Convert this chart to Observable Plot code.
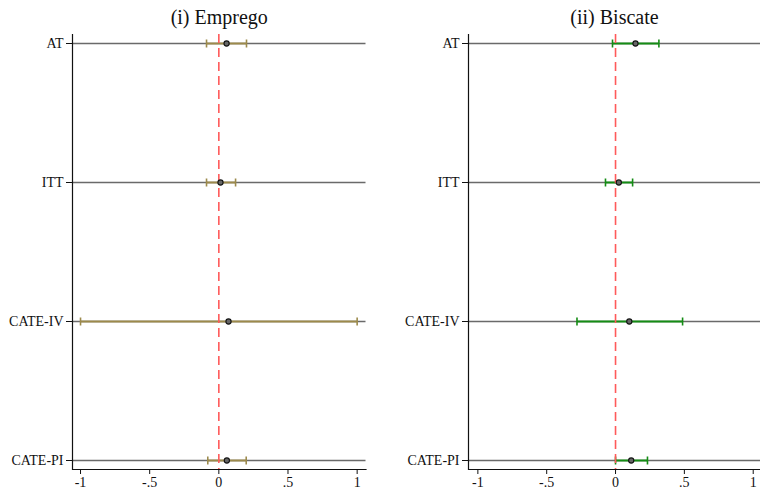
<!DOCTYPE html>
<html>
<head>
<meta charset="utf-8">
<script src="https://cdn.jsdelivr.net/npm/d3@7"></script>
<script src="https://cdn.jsdelivr.net/npm/@observablehq/plot@0.6"></script>
<style>
  html, body { margin: 0; padding: 0; background: #fff; }
  #wrap { position: relative; width: 760px; height: 489px; overflow: hidden; background: #fff; }
  .panel { position: absolute; top: 0; }
  .panel svg { overflow: visible; }
</style>
</head>
<body>
<div id="wrap">
  <div id="left" class="panel" style="left:0px"></div>
  <div id="right" class="panel" style="left:380px"></div>
</div>
<script>
const categories = ["AT", "ITT", "CATE-IV", "CATE-PI"];

const empregoTitle = "(i) Emprego";
const empregoEst = [0.056, 0.012, 0.07, 0.058];
const empregoLo  = [-0.089, -0.089, -1.0, -0.08];
const empregoHi  = [0.20, 0.121, 1.0, 0.198];

const biscateTitle = "(ii) Biscate";
const biscateEst = [0.145, 0.024, 0.10, 0.114];
const biscateLo  = [-0.022, -0.073, -0.28, 0.0];
const biscateHi  = [0.315, 0.124, 0.487, 0.232];

const xTicks = [-1, -0.5, 0, 0.5, 1];
const xTickLabels = ["-1", "-.5", "0", ".5", "1"];

const font = "'Liberation Serif', 'Times New Roman', serif";

const capSymbol = {
  draw(context) {
    context.moveTo(0, -4);
    context.lineTo(0, 4);
  }
};

function panel(title, est, lo, hi, color, marginLeft, marginRight, domain) {
  const rows = categories.map((c, i) => ({cat: c, est: est[i], lo: lo[i], hi: hi[i]}));
  const caps = rows.flatMap(d => [{cat: d.cat, v: d.lo}, {cat: d.cat, v: d.hi}]);
  const fmt = (d) => xTickLabels[xTicks.indexOf(d)];
  return Plot.plot({
    width: 380,
    height: 489,
    marginLeft,
    marginRight,
    marginTop: 34,
    marginBottom: 20,
    style: {fontFamily: font, fontSize: "14px", color: "#111", background: "transparent"},
    x: {domain, ticks: xTicks, tickFormat: fmt, label: null},
    y: {type: "point", domain: categories, range: [43, 460], padding: 0, label: null},
    marks: [
      Plot.ruleY(categories, {stroke: "#6a6a6a", strokeWidth: 1.6}),
      Plot.link(rows, {y1: "cat", y2: "cat", x1: "lo", x2: "hi", stroke: color, strokeWidth: 2}),
      Plot.dot(caps, {x: "v", y: "cat", symbol: capSymbol, r: 4, fill: "none", stroke: color, strokeWidth: 1.6}),
      Plot.ruleX([0], {stroke: "#ff5a5a", strokeWidth: 1.6, strokeDasharray: "9,5"}),
      Plot.dot(rows, {x: "est", y: "cat", r: 2.6, fill: "#666", stroke: "#111", strokeWidth: 1.1}),
      Plot.ruleX([domain[0]], {stroke: "#111", strokeWidth: 1.2}),
      Plot.frame({anchor: "bottom", stroke: "#111", strokeWidth: 1.2}),
      Plot.axisY({tickSize: 6, tickPadding: 3, fontSize: 14, stroke: "#111", fill: "#111"}),
      Plot.axisX({ticks: xTicks, tickFormat: fmt, tickSize: 5, tickPadding: 3, fontSize: 14, stroke: "#111", fill: "#111"}),
      Plot.text([title], {frameAnchor: "top", dy: -17, lineAnchor: "middle", fontSize: 20, fill: "#111", fontFamily: font})
    ]
  });
}

document.getElementById("left").appendChild(
  panel(empregoTitle, empregoEst, empregoLo, empregoHi, "#9c8a4c", 72, 14.5, [-1.058, 1.064])
);
document.getElementById("right").appendChild(
  panel(biscateTitle, biscateEst, biscateLo, biscateHi, "#148c14", 88, 0, [-1.068, 1.053])
);
</script>
</body>
</html>
